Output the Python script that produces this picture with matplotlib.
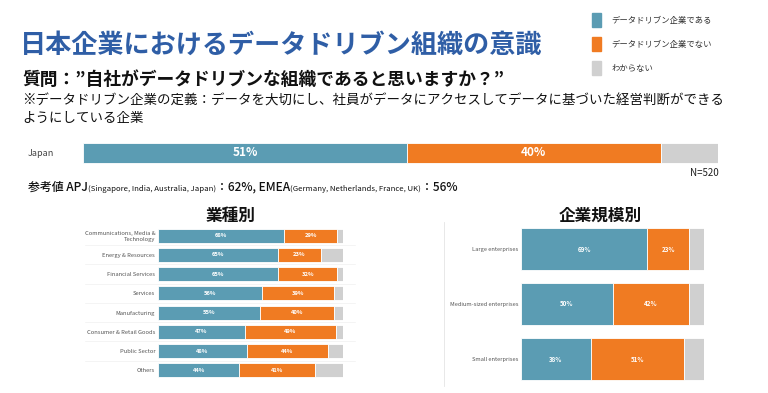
import numpy as np
import matplotlib
matplotlib.use("Agg")
import matplotlib.pyplot as plt

plt.rcParams['font.family'] = ['Noto Sans CJK JP', 'DejaVu Sans']

W, H = 768, 393

# colors
c_yes = '#5b9cb3'
c_no = '#f07b22'
c_unk = '#d0d0d0'
seg_colors = [c_yes, c_no, c_unk]
legend_labels = ['データドリブン企業である', 'データドリブン企業でない', 'わからない']

# data
japan_yes, japan_no = 51, 40

industries = ['Communications, Media &\nTechnology', 'Energy & Resources', 'Financial Services',
              'Services', 'Manufacturing', 'Consumer & Retail Goods', 'Public Sector', 'Others']
ind_yes = [68, 65, 65, 56, 55, 47, 48, 44]
ind_no = [29, 23, 32, 39, 40, 49, 44, 41]

sizes = ['Large enterprises', 'Medium-sized enterprises', 'Small enterprises']
size_yes = [69, 50, 38]
size_no = [23, 42, 51]


def px_axes(x0, y0, x1, y1):
    return fig.add_axes([x0 / W, 1 - y1 / H, (x1 - x0) / W, (y1 - y0) / H])


def stacked(ax, labels, yes, no, height, fs):
    yes = np.array(yes)
    no = np.array(no)
    unk = 100 - yes - no
    y = np.arange(len(labels))
    left = np.zeros(len(labels))
    for vals, col in zip([yes, no, unk], seg_colors):
        ax.barh(y, vals, left=left, height=height, color=col, edgecolor='white', linewidth=0.6)
        if col != c_unk:
            for yi, l, v in zip(y, left, vals):
                ax.text(l + v / 2, yi, f'{v}%', ha='center', va='center', color='white',
                        fontsize=fs, fontweight='bold')
        left = left + vals
    ax.set_xlim(0, 100)
    ax.set_ylim(len(labels) - 0.5, -0.5)
    ax.set_xticks([])
    ax.set_yticks(y)
    ax.set_yticklabels(labels)
    ax.tick_params(axis='y', length=0, pad=2, labelcolor='#555555')
    for s in ax.spines.values():
        s.set_visible(False)
    ax.patch.set_alpha(0)


fig = plt.figure(figsize=(W / 100, H / 100), dpi=100)

# titles
fig.text(20 / W, 1 - 45 / H, '日本企業におけるデータドリブン組織の意識', fontsize=18.8,
         fontweight='bold', color='#2f5ea6', va='center', ha='left')
fig.text(22 / W, 1 - 80 / H, '質問：”自社がデータドリブンな組織であると思いますか？”', fontsize=12.8,
         fontweight='bold', color='#111111', va='center', ha='left')
fig.text(22 / W, 1 - 101 / H, '※データドリブン企業の定義：データを大切にし、社員がデータにアクセスしてデータに基づいた経営判断ができる',
         fontsize=9.7, color='#111111', va='center', ha='left')
fig.text(22 / W, 1 - 118 / H, 'ようにしている企業', fontsize=9.7, color='#111111', va='center', ha='left')

# legend
for i, (lab, col) in enumerate(zip(legend_labels, seg_colors)):
    yc = 20 + i * 24
    fig.patches.append(plt.Rectangle((592 / W, 1 - (yc + 7) / H), 9 / W, 14 / H,
                                     transform=fig.transFigure, color=col))
    fig.text(611 / W, 1 - yc / H, lab, fontsize=6, color='#333333', va='center', ha='left')

# Japan bar
axj = px_axes(83, 138, 718, 168)
stacked(axj, ['Japan'], [japan_yes], [japan_no], 0.68, 8.5)
axj.set_yticklabels([])
fig.text(28 / W, 1 - 153 / H, 'Japan', fontsize=6.5, color='#444444', va='center', ha='left')
fig.text(690 / W, 1 - 173 / H, 'N=520', fontsize=7, color='#222222', va='center', ha='left')

# reference line with mixed sizes
parts = [('参考値 APJ', 8.6), ('(Singapore, India, Australia, Japan)', 5.6), ('：62%, EMEA', 8.6),
         ('(Germany, Netherlands, France, UK)', 5.6), ('：56%', 8.6)]
renderer = fig.canvas.get_renderer()
xpos = 28
for txt, fs in parts:
    t = fig.text(xpos / W, 1 - 191 / H, txt, fontsize=fs, color='#111111', va='baseline',
                 ha='left', fontweight='medium' if fs > 8 else 'normal')
    bb = t.get_window_extent(renderer=renderer)
    xpos += bb.width

# panel titles
fig.text(231 / W, 1 - 216 / H, '業種別', fontsize=12, fontweight='bold', color='#111111',
         ha='center', va='center')
fig.text(600 / W, 1 - 216 / H, '企業規模別', fontsize=12, fontweight='bold', color='#111111',
         ha='center', va='center')

# industry panel
axi = px_axes(158, 226, 343, 380)
stacked(axi, industries, ind_yes, ind_no, 0.72, 4.2)
axi.tick_params(axis='y', labelsize=4.2)
for k in range(len(industries) - 1):
    fig.add_artist(plt.Line2D([85 / W, 355 / W], [1 - (235.5 + 19.25 * k + 9.6) / H] * 2,
                              color='#f0f0f0', lw=0.5))

# size panel
axs = px_axes(521, 221.5, 704, 386.5)
stacked(axs, sizes, size_yes, size_no, 0.75, 4.5)
axs.tick_params(axis='y', labelsize=4.1)
fig.add_artist(plt.Line2D([444 / W, 444 / W], [1 - 222 / H, 1 - 386 / H], color='#e4e4e4', lw=0.6))

fig.savefig('out.png', dpi=100)
